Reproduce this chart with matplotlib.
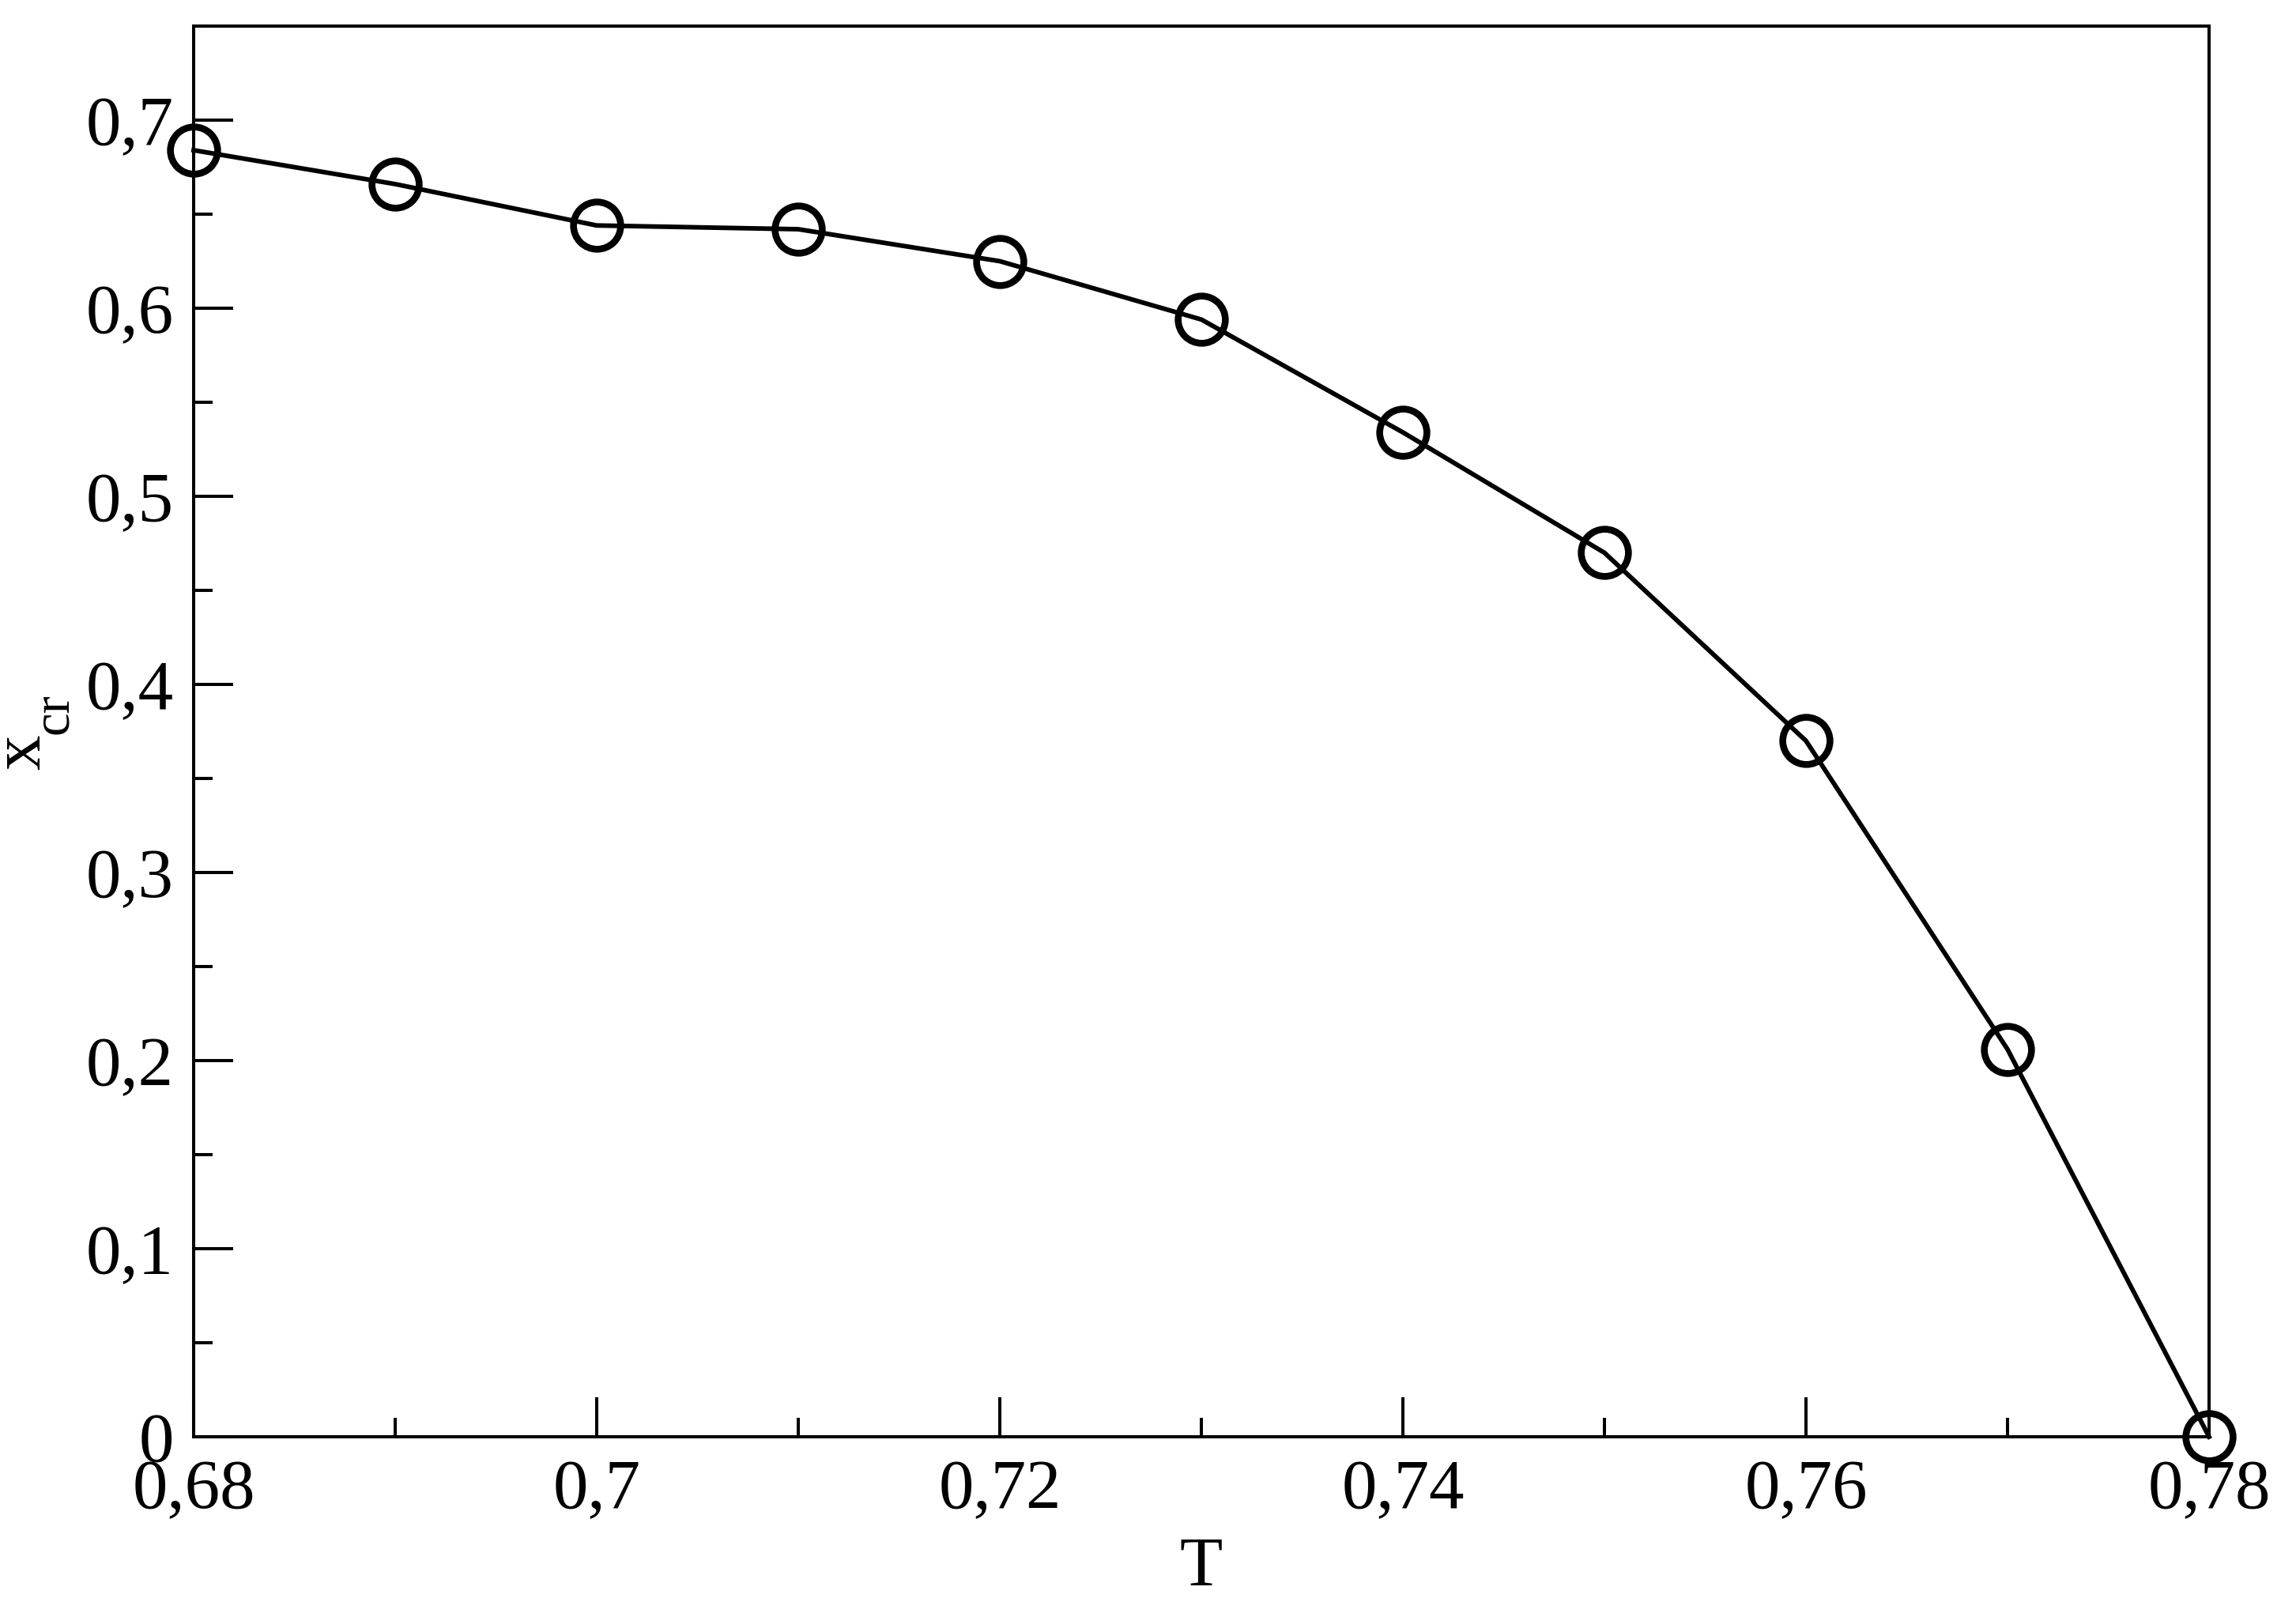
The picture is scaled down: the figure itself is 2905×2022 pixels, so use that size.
#!/usr/bin/env python
"""
Critical concentration x_cr versus temperature T
"""
import matplotlib
matplotlib.use("Agg")
import matplotlib.pyplot as plt
from matplotlib.ticker import MultipleLocator, AutoMinorLocator, FuncFormatter

# data
temperature = [0.68, 0.69, 0.70, 0.71, 0.72, 0.73, 0.74, 0.75, 0.76, 0.77, 0.78]
x_cr = [0.684, 0.666, 0.644, 0.642, 0.625, 0.594, 0.534, 0.470, 0.370, 0.206, 0.0]

plt.rcParams['font.family'] = ['Liberation Serif', 'DejaVu Serif']


def comma(v, pos):
    # decimal comma, as in the original
    return f"{v:g}".replace('.', ',')


W, H = 2905, 2022
fig = plt.figure(figsize=(W / 100, H / 100), dpi=100)
ax = fig.add_axes([245 / W, 1 - 1818 / H, 2550 / W, 1785 / H])

ax.plot(temperature, x_cr, color='black', lw=4.2, marker='o', ms=43,
        mfc='none', mec='black', mew=6.2, clip_on=False, zorder=3)

ax.set_xlim(0.68, 0.78)
ax.set_ylim(0, 0.75)
ax.xaxis.set_major_locator(MultipleLocator(0.02))
ax.xaxis.set_minor_locator(AutoMinorLocator(2))
ax.yaxis.set_major_locator(MultipleLocator(0.1))
ax.yaxis.set_minor_locator(AutoMinorLocator(2))
ax.xaxis.set_major_formatter(FuncFormatter(comma))
ax.yaxis.set_major_formatter(FuncFormatter(comma))

for s in ax.spines.values():
    s.set_linewidth(2.9)
ax.tick_params(which='both', direction='in', top=False, right=False, width=2.9)
ax.tick_params(which='major', length=36, labelsize=64)
ax.tick_params(which='minor', length=17)
ax.tick_params(axis='x', pad=20)
ax.tick_params(axis='y', pad=18)

ax.set_xlabel('T', fontsize=64)
ax.xaxis.set_label_coords(0.5, -0.070)

# y label: "x" with a deep subscript "cr", as drawn in the original
fig.text(50 / W, 1 - 974 / H, 'x', fontsize=64, rotation=90,
         rotation_mode='anchor', ha='left', va='baseline')
fig.text(85 / W, 1 - 929 / H, 'cr', fontsize=48, rotation=90,
         rotation_mode='anchor', ha='left', va='baseline')

fig.savefig('out.png', dpi=100)
